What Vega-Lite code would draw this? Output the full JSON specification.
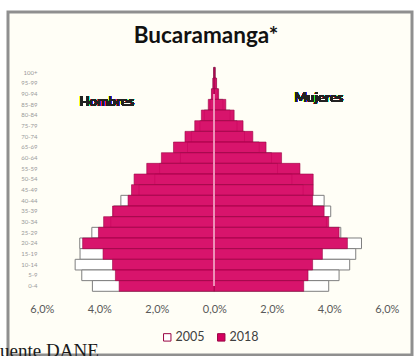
{
  "$schema": "https://vega.github.io/schema/vega-lite/v6.json",
  "autosize": {"type": "none"},
  "width": 404,
  "height": 343,
  "padding": {"left": 8, "top": 12, "right": 2, "bottom": 1},
  "background": "#ffffff",
  "config": {
    "view": {"fill": "#fffef6", "stroke": "#8f8f8f", "strokeWidth": 3},
    "font": "Lato"
  },
  "title": {
    "text": "Bucaramanga*",
    "font": "Lato",
    "fontSize": 22.5,
    "fontWeight": "bold",
    "color": "#111111",
    "anchor": "middle",
    "frame": "group",
    "offset": -31,
    "baseline": "alphabetic",
    "dx": -4,
    "dy": 22
  },
  "data": {
    "values": [
      {"age": "100+", "sexo": "H", "anio": "2005", "pct": -0.02},
      {"age": "95-99", "sexo": "H", "anio": "2005", "pct": -0.04},
      {"age": "90-94", "sexo": "H", "anio": "2005", "pct": -0.08},
      {"age": "85-89", "sexo": "H", "anio": "2005", "pct": -0.15},
      {"age": "80-84", "sexo": "H", "anio": "2005", "pct": -0.35},
      {"age": "75-79", "sexo": "H", "anio": "2005", "pct": -0.5},
      {"age": "70-74", "sexo": "H", "anio": "2005", "pct": -0.8},
      {"age": "65-69", "sexo": "H", "anio": "2005", "pct": -0.93},
      {"age": "60-64", "sexo": "H", "anio": "2005", "pct": -1.18},
      {"age": "55-59", "sexo": "H", "anio": "2005", "pct": -1.9},
      {"age": "50-54", "sexo": "H", "anio": "2005", "pct": -2.07},
      {"age": "45-49", "sexo": "H", "anio": "2005", "pct": -2.62},
      {"age": "40-44", "sexo": "H", "anio": "2005", "pct": -3.25},
      {"age": "35-39", "sexo": "H", "anio": "2005", "pct": -3.5},
      {"age": "30-34", "sexo": "H", "anio": "2005", "pct": -3.6},
      {"age": "25-29", "sexo": "H", "anio": "2005", "pct": -4.26},
      {"age": "20-24", "sexo": "H", "anio": "2005", "pct": -4.68},
      {"age": "15-19", "sexo": "H", "anio": "2005", "pct": -4.67},
      {"age": "10-14", "sexo": "H", "anio": "2005", "pct": -4.84},
      {"age": "5-9", "sexo": "H", "anio": "2005", "pct": -4.61},
      {"age": "0-4", "sexo": "H", "anio": "2005", "pct": -4.24},
      {"age": "100+", "sexo": "M", "anio": "2005", "pct": 0.03},
      {"age": "95-99", "sexo": "M", "anio": "2005", "pct": 0.06},
      {"age": "90-94", "sexo": "M", "anio": "2005", "pct": 0.12},
      {"age": "85-89", "sexo": "M", "anio": "2005", "pct": 0.3},
      {"age": "80-84", "sexo": "M", "anio": "2005", "pct": 0.55},
      {"age": "75-79", "sexo": "M", "anio": "2005", "pct": 0.79},
      {"age": "70-74", "sexo": "M", "anio": "2005", "pct": 1.05},
      {"age": "65-69", "sexo": "M", "anio": "2005", "pct": 1.56},
      {"age": "60-64", "sexo": "M", "anio": "2005", "pct": 1.99},
      {"age": "55-59", "sexo": "M", "anio": "2005", "pct": 2.2},
      {"age": "50-54", "sexo": "M", "anio": "2005", "pct": 2.7},
      {"age": "45-49", "sexo": "M", "anio": "2005", "pct": 3.09},
      {"age": "40-44", "sexo": "M", "anio": "2005", "pct": 3.82},
      {"age": "35-39", "sexo": "M", "anio": "2005", "pct": 4.05},
      {"age": "30-34", "sexo": "M", "anio": "2005", "pct": 3.9},
      {"age": "25-29", "sexo": "M", "anio": "2005", "pct": 4.4},
      {"age": "20-24", "sexo": "M", "anio": "2005", "pct": 5.12},
      {"age": "15-19", "sexo": "M", "anio": "2005", "pct": 4.92},
      {"age": "10-14", "sexo": "M", "anio": "2005", "pct": 4.71},
      {"age": "5-9", "sexo": "M", "anio": "2005", "pct": 4.34},
      {"age": "0-4", "sexo": "M", "anio": "2005", "pct": 3.98},
      {"age": "100+", "sexo": "H", "anio": "2018", "pct": -0.02},
      {"age": "95-99", "sexo": "H", "anio": "2018", "pct": -0.05},
      {"age": "90-94", "sexo": "H", "anio": "2018", "pct": -0.1},
      {"age": "85-89", "sexo": "H", "anio": "2018", "pct": -0.21},
      {"age": "80-84", "sexo": "H", "anio": "2018", "pct": -0.45},
      {"age": "75-79", "sexo": "H", "anio": "2018", "pct": -0.68},
      {"age": "70-74", "sexo": "H", "anio": "2018", "pct": -1.02},
      {"age": "65-69", "sexo": "H", "anio": "2018", "pct": -1.42},
      {"age": "60-64", "sexo": "H", "anio": "2018", "pct": -1.84},
      {"age": "55-59", "sexo": "H", "anio": "2018", "pct": -2.35},
      {"age": "50-54", "sexo": "H", "anio": "2018", "pct": -2.79},
      {"age": "45-49", "sexo": "H", "anio": "2018", "pct": -2.88},
      {"age": "40-44", "sexo": "H", "anio": "2018", "pct": -3.0},
      {"age": "35-39", "sexo": "H", "anio": "2018", "pct": -3.54},
      {"age": "30-34", "sexo": "H", "anio": "2018", "pct": -3.85},
      {"age": "25-29", "sexo": "H", "anio": "2018", "pct": -4.03},
      {"age": "20-24", "sexo": "H", "anio": "2018", "pct": -4.58},
      {"age": "15-19", "sexo": "H", "anio": "2018", "pct": -3.87},
      {"age": "10-14", "sexo": "H", "anio": "2018", "pct": -3.54},
      {"age": "5-9", "sexo": "H", "anio": "2018", "pct": -3.44},
      {"age": "0-4", "sexo": "H", "anio": "2018", "pct": -3.31},
      {"age": "100+", "sexo": "M", "anio": "2018", "pct": 0.03},
      {"age": "95-99", "sexo": "M", "anio": "2018", "pct": 0.08},
      {"age": "90-94", "sexo": "M", "anio": "2018", "pct": 0.15},
      {"age": "85-89", "sexo": "M", "anio": "2018", "pct": 0.4},
      {"age": "80-84", "sexo": "M", "anio": "2018", "pct": 0.69},
      {"age": "75-79", "sexo": "M", "anio": "2018", "pct": 1.0},
      {"age": "70-74", "sexo": "M", "anio": "2018", "pct": 1.34},
      {"age": "65-69", "sexo": "M", "anio": "2018", "pct": 1.8},
      {"age": "60-64", "sexo": "M", "anio": "2018", "pct": 2.34},
      {"age": "55-59", "sexo": "M", "anio": "2018", "pct": 2.98},
      {"age": "50-54", "sexo": "M", "anio": "2018", "pct": 3.44},
      {"age": "45-49", "sexo": "M", "anio": "2018", "pct": 3.44},
      {"age": "40-44", "sexo": "M", "anio": "2018", "pct": 3.42},
      {"age": "35-39", "sexo": "M", "anio": "2018", "pct": 3.82},
      {"age": "30-34", "sexo": "M", "anio": "2018", "pct": 3.98},
      {"age": "25-29", "sexo": "M", "anio": "2018", "pct": 4.34},
      {"age": "20-24", "sexo": "M", "anio": "2018", "pct": 4.63},
      {"age": "15-19", "sexo": "M", "anio": "2018", "pct": 3.76},
      {"age": "10-14", "sexo": "M", "anio": "2018", "pct": 3.42},
      {"age": "5-9", "sexo": "M", "anio": "2018", "pct": 3.26},
      {"age": "0-4", "sexo": "M", "anio": "2018", "pct": 3.11}
    ]
  },
  "layer": [
    {
      "transform": [{"filter": "datum.anio == '2005'"}],
      "mark": {"type": "bar", "stroke": "#7f7f7f", "strokeWidth": 1},
      "encoding": {
        "y": {
          "field": "age",
          "type": "nominal",
          "sort": ["100+", "95-99", "90-94", "85-89", "80-84", "75-79", "70-74", "65-69", "60-64", "55-59", "50-54", "45-49", "40-44", "35-39", "30-34", "25-29", "20-24", "15-19", "10-14", "5-9", "0-4"],
          "scale": {
            "type": "band",
            "domain": ["100+", "95-99", "90-94", "85-89", "80-84", "75-79", "70-74", "65-69", "60-64", "55-59", "50-54", "45-49", "40-44", "35-39", "30-34", "25-29", "20-24", "15-19", "10-14", "5-9", "0-4"],
            "range": [55.4, 279.3],
            "paddingInner": 0,
            "paddingOuter": 0
          },
          "axis": {
            "title": null,
            "ticks": false,
            "domain": false,
            "labelFontSize": 6,
            "labelColor": "#9a9a9a",
            "offset": -32,
            "labelPadding": 3
          }
        },
        "x": {
          "field": "pct",
          "type": "quantitative",
          "scale": {"domain": [-7.176, 6.877], "nice": false, "zero": false},
          "axis": {
            "values": [-6, -4, -2, 0, 2, 4, 6],
            "labelExpr": "replace(format(abs(datum.value), '.1f'), '.', ',') + '%'",
            "grid": false,
            "ticks": false,
            "domain": false,
            "labelFlush": false,
            "labelFontSize": 11,
            "labelColor": "#595959",
            "labelPadding": 2,
            "offset": -54,
            "zindex": 1,
            "title": "Fuente DANE",
            "titleFont": "Liberation Serif",
            "titleFontSize": 19,
            "titleFontWeight": "normal",
            "titleColor": "#1a1a1a",
            "titleX": -19,
            "titleY": 55,
            "titleAnchor": "start",
            "titleAlign": "left",
            "titleBaseline": "alphabetic"
          }
        },
        "color": {
          "field": "anio",
          "type": "nominal",
          "scale": {"domain": ["2005", "2018"], "range": ["#ffffff", "#d5005f"]},
          "legend": {
            "orient": "none",
            "legendX": 153,
            "legendY": 319,
            "direction": "horizontal",
            "title": null,
            "symbolType": "square",
            "symbolSize": 55,
            "symbolStrokeColor": "#7f7f7f",
            "symbolStrokeWidth": 1,
            "labelFontSize": 12.5,
            "labelColor": "#404040",
            "labelOffset": 2,
            "columnPadding": 10
          }
        }
      }
    },
    {
      "transform": [{"filter": "datum.anio == '2018'"}],
      "mark": {"type": "bar", "stroke": "#9a0544", "strokeWidth": 0.6, "fillOpacity": 0.92},
      "encoding": {
        "y": {"field": "age", "type": "nominal"},
        "x": {"field": "pct", "type": "quantitative"},
        "color": {"field": "anio", "type": "nominal"}
      }
    },
    {
      "mark": {"type": "rule", "color": "#ee93b8", "strokeWidth": 1},
      "encoding": {
        "x": {"datum": 0, "type": "quantitative"},
        "y": {"datum": "90-94", "type": "nominal"},
        "y2": {"datum": "0-4"}
      }
    },
    {
      "mark": {"type": "text", "font": "Lato", "fontSize": 13.5, "fontWeight": "bold", "fill": "#222222", "dy": -3},
      "encoding": {
        "x": {"datum": -3.74, "type": "quantitative"},
        "y": {"datum": "85-89", "type": "nominal"},
        "text": {"value": "Hombres"}
      }
    },
    {
      "mark": {"type": "text", "font": "Lato", "fontSize": 13.5, "fontWeight": "bold", "fill": "#222222", "dy": 4},
      "encoding": {
        "x": {"datum": 3.63, "type": "quantitative"},
        "y": {"datum": "90-94", "type": "nominal"},
        "text": {"value": "Mujeres"}
      }
    }
  ]
}
